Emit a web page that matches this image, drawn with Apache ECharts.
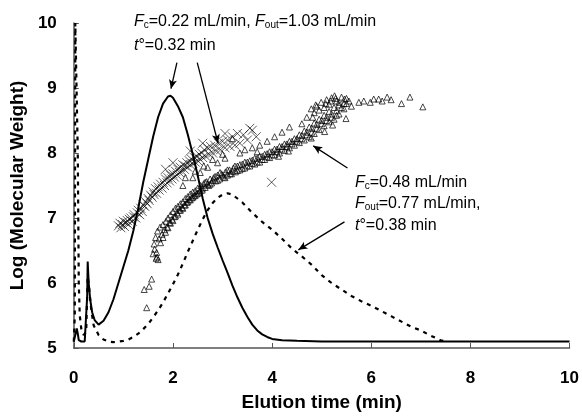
<!DOCTYPE html>
<html>
<head>
<meta charset="utf-8">
<script src="https://cdn.jsdelivr.net/npm/echarts@6/dist/echarts.min.js"></script>
<style>html,body{margin:0;padding:0;background:#fff}#c{width:582px;height:417px}</style>
</head>
<body>
<div id="c"></div>
<script>
// Solid curve: Fc = 0.22 mL/min run (x = elution time, y = log MW)
var solidCurve = [[0.00,5.10],[0.04,5.12],[0.06,5.30],[0.08,5.22],[0.10,5.12],[0.15,5.10],[0.22,5.10],[0.25,5.12],[0.27,5.80],[0.28,6.33],[0.30,6.00],[0.33,5.75],[0.37,5.55],[0.42,5.43],[0.50,5.36],[0.60,5.42],[0.70,5.55],[0.80,5.75],[0.90,6.00],[1.00,6.25],[1.10,6.50],[1.20,6.80],[1.30,7.15],[1.40,7.55],[1.50,7.90],[1.60,8.25],[1.70,8.55],[1.80,8.76],[1.90,8.87],[1.95,8.88],[2.00,8.85],[2.10,8.72],[2.20,8.55],[2.30,8.28],[2.40,7.98],[2.50,7.65],[2.60,7.30],[2.70,7.00],[2.80,6.76],[2.90,6.55],[3.00,6.35],[3.10,6.16],[3.20,5.96],[3.30,5.78],[3.40,5.62],[3.50,5.48],[3.60,5.36],[3.70,5.27],[3.80,5.21],[3.90,5.17],[4.00,5.14],[4.20,5.12],[4.50,5.11],[5.00,5.10],[6.00,5.10],[7.00,5.10],[8.00,5.10],[9.00,5.10],[10.00,5.10]];
// Dashed curve: Fc = 0.48 mL/min run
var dashedCurve = [[0.00,5.10],[0.02,5.50],[0.03,10.00],[0.06,10.00],[0.08,8.00],[0.10,6.00],[0.12,5.50],[0.15,5.30],[0.20,5.20],[0.25,5.25],[0.28,6.10],[0.30,6.00],[0.35,5.60],[0.40,5.35],[0.50,5.20],[0.60,5.13],[0.70,5.10],[0.80,5.09],[0.90,5.10],[1.00,5.11],[1.10,5.13],[1.20,5.17],[1.30,5.22],[1.40,5.29],[1.50,5.37],[1.60,5.47],[1.70,5.58],[1.80,5.70],[1.90,5.84],[2.00,5.98],[2.10,6.13],[2.20,6.30],[2.30,6.48],[2.40,6.65],[2.50,6.82],[2.60,6.98],[2.70,7.12],[2.80,7.23],[2.90,7.31],[3.00,7.36],[3.10,7.38],[3.20,7.36],[3.30,7.30],[3.40,7.24],[3.60,7.08],[3.80,6.94],[4.00,6.82],[4.20,6.68],[4.40,6.53],[4.60,6.41],[4.80,6.28],[5.00,6.12],[5.20,6.00],[5.40,5.90],[5.60,5.80],[5.80,5.72],[6.00,5.65],[6.20,5.57],[6.40,5.49],[6.60,5.41],[6.80,5.33],[7.00,5.27],[7.20,5.19],[7.40,5.12],[7.50,5.10]];
// Cross markers: MW data for Fc = 0.22 run
var crossPoints = [[0.90,6.88],[0.93,6.92],[0.95,6.85],[0.98,6.90],[1.00,6.95],[1.02,6.87],[1.05,6.93],[1.08,6.96],[1.10,6.90],[1.12,6.98],[1.15,7.00],[1.18,6.95],[1.20,7.02],[1.22,7.05],[1.25,7.00],[1.28,7.08],[1.30,7.12],[1.33,7.05],[1.35,7.15],[1.38,7.10],[1.40,7.20],[1.43,7.18],[1.45,7.25],[1.48,7.22],[1.50,7.30],[1.52,7.27],[1.55,7.35],[1.58,7.32],[1.60,7.40],[1.62,7.36],[1.65,7.45],[1.67,7.38],[1.70,7.48],[1.72,7.43],[1.75,7.52],[1.78,7.46],[1.80,7.55],[1.83,7.50],[1.85,7.60],[1.88,7.54],[1.90,7.62],[1.93,7.57],[1.95,7.66],[1.98,7.60],[2.00,7.68],[2.03,7.63],[2.05,7.72],[2.08,7.66],[2.10,7.75],[2.13,7.70],[2.15,7.78],[2.18,7.72],[2.20,7.82],[2.23,7.75],[2.25,7.80],[2.28,7.85],[2.30,7.78],[2.33,7.88],[2.35,7.82],[2.38,7.90],[2.40,7.84],[2.43,7.93],[2.45,7.86],[2.48,7.95],[2.50,7.88],[2.53,7.98],[2.55,7.90],[2.58,8.00],[2.60,7.93],[2.63,8.05],[2.66,7.95],[2.70,8.08],[2.73,7.98],[2.76,8.10],[2.80,8.00],[2.84,8.12],[2.88,8.03],[2.92,8.15],[2.96,8.05],[3.00,8.18],[3.05,8.08],[3.10,8.20],[3.15,8.10],[3.20,8.25],[3.25,8.12],[3.30,8.30],[3.35,8.15],[3.42,8.28],[3.50,8.20],[3.60,8.35],[3.68,8.25],[1.85,7.75],[2.00,7.85],[2.35,8.03],[2.60,8.15],[3.05,8.30],[3.55,8.38],[3.99,7.55]];
// Triangle markers: MW data for Fc = 0.48 run
var trianglePoints = [[1.47,5.62],[1.42,5.90],[1.52,5.95],[1.57,6.06],[1.60,6.45],[1.63,6.52],[1.66,6.38],[1.68,6.40],[1.70,6.36],[1.67,6.47],[1.62,6.60],[1.65,6.70],[1.72,6.68],[1.69,6.80],[1.74,6.86],[1.78,6.75],[1.80,6.90],[1.83,6.82],[1.86,6.95],[1.88,6.86],[1.90,7.00],[1.93,6.93],[1.95,7.05],[1.98,6.98],[2.00,7.10],[2.03,7.02],[2.05,7.15],[2.08,7.08],[2.10,7.18],[2.13,7.12],[2.15,7.22],[2.18,7.16],[2.20,7.25],[2.23,7.20],[2.25,7.30],[2.28,7.24],[2.30,7.33],[2.33,7.28],[2.35,7.37],[2.38,7.31],[2.40,7.40],[2.43,7.34],[2.45,7.42],[2.48,7.37],[2.50,7.46],[2.53,7.40],[2.56,7.50],[2.59,7.43],[2.62,7.53],[2.65,7.47],[2.68,7.56],[2.72,7.50],[2.75,7.60],[2.78,7.54],[2.82,7.62],[2.86,7.57],[2.90,7.66],[2.94,7.60],[2.98,7.68],[3.02,7.63],[3.06,7.71],[3.10,7.66],[3.14,7.74],[3.18,7.68],[3.22,7.77],[3.26,7.71],[3.30,7.80],[3.35,7.74],[3.40,7.83],[3.45,7.77],[3.50,7.86],[3.55,7.80],[3.60,7.89],[3.65,7.83],[3.70,7.92],[3.75,7.86],[3.80,7.95],[3.85,7.90],[3.90,7.99],[3.95,7.93],[4.00,8.02],[4.05,7.97],[4.10,8.06],[4.15,8.00],[4.20,8.10],[4.25,8.04],[4.30,8.14],[4.35,8.08],[4.40,8.18],[4.45,8.12],[4.50,8.22],[4.55,8.16],[4.60,8.27],[4.65,8.20],[4.70,8.32],[4.75,8.25],[4.80,8.38],[4.85,8.30],[4.90,8.44],[4.95,8.36],[5.00,8.50],[5.05,8.42],[5.10,8.55],[5.15,8.48],[5.20,8.60],[5.25,8.52],[5.30,8.65],[2.20,7.50],[2.40,7.62],[2.55,7.70],[2.70,7.78],[2.90,7.85],[3.20,8.22],[3.05,7.92],[3.35,8.00],[3.60,8.08],[3.75,8.12],[3.90,8.18],[4.05,8.25],[4.20,8.32],[4.35,8.40],[4.13,7.95],[4.33,8.03],[4.79,8.23],[4.60,8.45],[4.70,8.55],[4.79,8.68],[4.85,8.62],[4.90,8.72],[4.99,8.78],[5.05,8.70],[5.10,8.82],[5.15,8.75],[5.20,8.85],[5.26,8.88],[5.30,8.80],[5.35,8.74],[5.40,8.86],[5.46,8.83],[5.50,8.76],[5.55,8.80],[5.22,8.43],[5.06,8.33],[5.49,8.53],[5.35,8.60],[5.45,8.68],[5.60,8.72],[5.75,8.78],[5.85,8.80],[5.98,8.78],[6.05,8.83],[6.15,8.83],[6.22,8.80],[6.32,8.86],[6.40,8.82],[6.61,8.76],[6.78,8.86],[7.04,8.71],
  [1.75,6.62],[1.80,6.70],[1.85,6.78],[1.90,6.85],[1.95,6.92],[2.00,6.96],[2.05,7.03],[2.10,7.06],[2.15,7.12],[2.20,7.15],[2.25,7.20],[2.30,7.25],[2.35,7.28],[2.40,7.32],[2.45,7.35],[2.50,7.38],[2.55,7.42],[2.60,7.46],[2.65,7.55],[2.70,7.52],[2.75,7.52],[2.80,7.58],[2.85,7.64],[2.90,7.58],[2.95,7.70],[3.00,7.66],[3.05,7.62],[3.10,7.74],[3.15,7.68],[3.20,7.72],[3.25,7.80],[3.30,7.73],[3.35,7.82],[3.40,7.76],[3.45,7.86],[3.50,7.80],[3.55,7.88],[3.60,7.84],[3.65,7.92],[3.70,7.86],[3.75,7.95],[3.80,7.90],[3.85,7.98],[3.90,7.94],[3.95,8.02],[4.00,7.97],[4.05,8.06],[4.10,8.02],[4.15,8.10],[4.20,8.06],[4.25,8.14],[4.30,8.10],[4.35,8.18],[4.40,8.14],[4.45,8.22],[4.50,8.18],[4.55,8.28],[4.60,8.22],[4.65,8.34],[4.70,8.28],[4.75,8.40],[4.80,8.32],[4.85,8.46],[4.90,8.38],[4.95,8.52],[5.00,8.45],[5.05,8.58],[5.10,8.50],[5.15,8.64],[5.20,8.55],[5.25,8.70],[5.30,8.58],[5.35,8.78],[5.40,8.70],[5.45,8.76],[5.50,8.84],[5.28,8.84],[5.18,8.80],[5.08,8.76],[4.95,8.66],[4.82,8.55],[4.88,8.74],
  [2.25,7.62],[2.45,7.72],[2.62,7.80],[2.80,7.90],[3.00,7.98],[3.45,8.05],[3.70,8.02]];
// Annotation arrows [from, to] in data coordinates
var arrows = [[[2.08,9.39],[1.96,8.99]],[[2.49,9.39],[2.91,8.15]],[[5.52,7.77],[4.83,8.11]],[[5.46,6.94],[4.53,6.51]]];
var xTicks = [0, 2, 4, 6, 8, 10];
var yTicks = [5, 6, 7, 8, 9, 10];

var chart = echarts.init(document.getElementById('c'), null, {renderer: 'canvas'});
var FONT = '"Liberation Sans", Arial, Helvetica, sans-serif';
var rich = {
  i: {fontStyle: 'italic', fontSize: 16, fontFamily: FONT, color: '#000'},
  s: {fontSize: 10, fontFamily: FONT, color: '#000', verticalAlign: 'bottom', padding: [7, 0, 0, 0]},
  n: {fontSize: 16, fontFamily: FONT, color: '#000'}
};
function txt(x, y, t) {
  return {type: 'text', left: x, top: y, style: {text: t, rich: rich, font: '16px ' + FONT, fill: '#000'}};
}
var option = {
  animation: false,
  backgroundColor: '#fff',
  grid: {left: 72, right: 6, top: 23, bottom: 64, containLabel: false},
  xAxis: {
    type: 'value', min: 0, max: 10, interval: 2,
    name: 'Elution time (min)', nameLocation: 'middle', nameGap: 45,
    nameTextStyle: {fontSize: 19, fontWeight: 'bold', fontFamily: FONT, color: '#000'},
    axisLine: {lineStyle: {color: '#555', width: 1.5}},
    axisTick: {inside: true, length: 5, lineStyle: {color: '#555'}},
    axisLabel: {fontSize: 17, fontWeight: 'bold', fontFamily: FONT, color: '#000', margin: 22,
      formatter: function (v) { return xTicks.indexOf(v) >= 0 ? String(v) : ''; }},
    splitLine: {show: false}
  },
  yAxis: {
    type: 'value', min: 5, max: 10, interval: 1,
    name: 'Log (Molecular Weight)', nameLocation: 'middle', nameGap: 43,
    nameTextStyle: {fontSize: 19, fontWeight: 'bold', fontFamily: FONT, color: '#000'},
    axisLine: {show: true, lineStyle: {color: '#555', width: 1.5}},
    axisTick: {show: true, inside: true, length: 5, lineStyle: {color: '#555'}},
    axisLabel: {fontSize: 17, fontWeight: 'bold', fontFamily: FONT, color: '#000', margin: 17,
      formatter: function (v) { return yTicks.indexOf(v) >= 0 ? String(v) : ''; }},
    splitLine: {show: false}
  },
  series: [
    {
      type: 'line', data: dashedCurve, showSymbol: false, z: 3,
      lineStyle: {color: '#000', width: 2.2, type: [4, 5]}
    },
    {
      type: 'line', data: solidCurve, showSymbol: false, z: 4,
      lineStyle: {color: '#000', width: 2}
    },
    {
      type: 'scatter', data: crossPoints, symbol: 'path://M0,0L10,10M10,0L0,10', symbolSize: 9, z: 5,
      itemStyle: {color: 'none', borderColor: '#000', borderWidth: 0.8}
    },
    {
      type: 'scatter', data: trianglePoints, symbol: 'triangle', symbolSize: 6, z: 5,
      itemStyle: {color: 'rgba(0,0,0,0)', borderColor: '#000', borderWidth: 0.9}
    },
    {
      type: 'line', data: [], z: 6,
      markLine: {
        silent: true, symbol: ['none', 'arrow'], symbolSize: [6, 9],
        label: {show: false},
        lineStyle: {color: '#000', width: 1.3, type: 'solid'},
        data: arrows.map(function (a) { return [{coord: a[0]}, {coord: a[1]}]; })
      }
    }
  ],
  graphic: [
    txt(134, 14, '{i|F}{s|c}{n|=0.22 mL/min, }{i|F}{s|out}{n|=1.03 mL/min}'),
    txt(134, 38, '{i|t}{n|°=0.32 min}'),
    txt(355, 175, '{i|F}{s|c}{n|=0.48 mL/min}'),
    txt(355, 196, '{i|F}{s|out}{n|=0.77 mL/min,}'),
    txt(355, 218, '{i|t}{n|°=0.38 min}')
  ]
};
chart.setOption(option);
</script>
</body>
</html>
